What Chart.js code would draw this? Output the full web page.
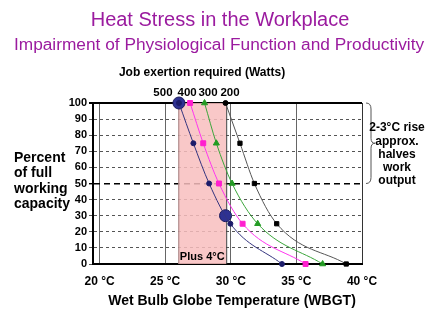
<!DOCTYPE html>
<html>
<head>
<meta charset="utf-8">
<script src="https://cdn.jsdelivr.net/npm/chart.js@4/dist/chart.umd.min.js"></script>
<style>
  html, body { margin: 0; padding: 0; background: #fff; }
  #box { width: 440px; height: 329px; position: relative; }
</style>
</head>
<body>
<div id="box"><canvas id="heatChart"></canvas></div>
<script>
"use strict";
// work capacity levels (%) and the WBGT at which each job load reaches them
var capacity = [100, 75, 50, 25, 0];
var watts = ['500', '400', '300', '200'];
var wbgt500 = [26.05, 27.15, 28.35, 29.97, 33.9];
var wbgt400 = [26.9, 27.9, 29.1, 30.9, 35.7];
var wbgt300 = [28.0, 28.9, 30.1, 32.05, 37.0];
var wbgt200 = [29.6, 30.7, 31.8, 33.5, 38.8];
// highlighted points on the 500 W curve
var keyWbgt = [26.05, 29.6];
var keyCapacity = [100, 30];
// shaded warming band
var bandFrom = 26.0;
var bandTo = 29.65;
var tempTicks = [20, 25, 30, 35, 40];

var FONT = "'Liberation Sans', Arial, sans-serif";

function pts(xs, ys) {
    var out = [];
    for (var i = 0; i < xs.length; i++) out.push({ x: xs[i], y: ys[i] });
    return out;
}

function serie(label, xs, line, mark, style, r) {
    return {
        label: label,
        data: pts(xs, capacity),
        borderColor: line,
        borderWidth: 1,
        backgroundColor: mark,
        pointBackgroundColor: mark,
        pointBorderColor: mark,
        pointStyle: style,
        pointRadius: r,
        cubicInterpolationMode: 'monotone',
        clip: false
    };
}

var decor = {
    id: 'decor',
    beforeDatasetsDraw: function (chart) {
        var c = chart.ctx, x = chart.scales.x, y = chart.scales.y;
        var l = x.getPixelForValue(bandFrom), r = x.getPixelForValue(bandTo);
        var t = y.getPixelForValue(100), b = y.getPixelForValue(0);
        c.save();
        c.fillStyle = 'rgba(248,190,190,0.85)';
        c.fillRect(l, t, r - l, b - t);
        c.strokeStyle = '#a08080';
        c.lineWidth = 1;
        c.beginPath();
        c.moveTo(l + 0.5, t); c.lineTo(l + 0.5, b);
        c.stroke();
        c.strokeStyle = '#404040';
        c.beginPath();
        c.moveTo(r + 0.5, t); c.lineTo(r + 0.5, b);
        c.stroke();
        c.fillStyle = '#000';
        c.font = 'bold 11px ' + FONT;
        c.textAlign = 'center';
        c.textBaseline = 'middle';
        c.fillText('Plus 4°C', (l + r) / 2, b - 7);
        c.restore();
    },
    afterDraw: function (chart) {
        var c = chart.ctx, x = chart.scales.x, y = chart.scales.y;
        c.save();
        c.textAlign = 'center';
        c.textBaseline = 'middle';
        c.fillStyle = '#9b1b9f';
        c.font = '20px ' + FONT;
        c.fillText('Heat Stress in the Workplace', 220, 20);
        c.font = '17.3px ' + FONT;
        c.fillText('Impairment of Physiological Function and Productivity', 219, 45);

        c.fillStyle = '#000';
        c.font = 'bold 12px ' + FONT;
        c.fillText('Job exertion required (Watts)', 202, 73);

        // watt labels above the top of each curve
        var tops = [wbgt500[0], wbgt400[0], wbgt300[0], wbgt200[0]];
        var shift = [-16, -3, 3.5, 4.5];
        c.font = 'bold 11.5px ' + FONT;
        for (var i = 0; i < watts.length; i++) {
            c.fillText(watts[i], x.getPixelForValue(tops[i]) + shift[i], 93);
        }

        // y axis title
        c.textAlign = 'left';
        c.font = 'bold 14px ' + FONT;
        ['Percent', 'of full', 'working', 'capacity'].forEach(function (s, k) {
            c.fillText(s, 14, 158 + k * 15.5);
        });

        // x axis title
        c.textAlign = 'center';
        c.font = 'bold 14px ' + FONT;
        c.fillText('Wet Bulb Globe Temperature (WBGT)', 232, 301);

        // brace between 100% and 50%
        var bx = x.right + 4, y1 = y.getPixelForValue(100), y2 = y.getPixelForValue(50);
        var ym = (y1 + y2) / 2;
        c.strokeStyle = '#555';
        c.lineWidth = 1;
        c.beginPath();
        c.moveTo(bx, y1);
        c.quadraticCurveTo(bx + 5, y1, bx + 5, y1 + 6);
        c.lineTo(bx + 5, ym - 5);
        c.quadraticCurveTo(bx + 5, ym, bx + 9, ym);
        c.quadraticCurveTo(bx + 5, ym, bx + 5, ym + 5);
        c.lineTo(bx + 5, y2 - 6);
        c.quadraticCurveTo(bx + 5, y2, bx, y2);
        c.stroke();

        c.font = 'bold 12px ' + FONT;
        ['2-3°C rise', 'approx.', 'halves', 'work', 'output'].forEach(function (s, k) {
            c.fillText(s, 397, 128 + k * 13.2);
        });
        c.restore();
    }
};

var data = {
    datasets: [
        {
            label: 'key',
            data: pts(keyWbgt, keyCapacity),
            showLine: false,
            pointRadius: 6,
            pointBackgroundColor: '#2e3192',
            pointBorderColor: '#1a1a5c',
            pointBorderWidth: 1,
            clip: false
        },
        serie('500', wbgt500, '#34347e', '#1c1c6a', 'circle', 2.5),
        serie('400', wbgt400, '#ff33ee', '#ff1fcf', 'rect', 3.5),
        serie('300', wbgt300, '#3aa53a', '#239b23', 'triangle', 3.5),
        serie('200', wbgt200, '#555555', '#000000', 'rect', 3)
    ]
};
// the 200 W curve starts at a round dot
data.datasets[4].pointStyle = ['circle', 'rect', 'rect', 'rect', 'rect'];
data.datasets[4].pointRadius = [2.5, 3, 3, 3, 3];
// key points drawn on top of the curves
data.datasets.push(data.datasets.shift());

var chart = new Chart(document.getElementById('heatChart'), {
    type: 'line',
    data: data,
    plugins: [decor],
    options: {
        responsive: true,
        maintainAspectRatio: false,
        animation: false,
        devicePixelRatio: 1,
        layout: { padding: { top: 103, right: 78, left: 0, bottom: 0 } },
        plugins: {
            legend: { display: false },
            tooltip: { enabled: false }
        },
        scales: {
            x: {
                type: 'linear',
                min: 19.5,
                max: 40,
                afterFit: function (s) { s.height = 65; },
                afterBuildTicks: function (s) {
                    s.ticks = tempTicks.map(function (v) { return { value: v }; });
                },
                grid: {
                    color: function (ctx) { return ctx.tick && ctx.tick.value === 40 ? '#333' : '#666'; },
                    lineWidth: 1,
                    tickLength: 0
                },
                border: { color: '#000', width: 2 },
                ticks: {
                    padding: 10,
                    color: '#000',
                    autoSkip: false,
                    maxRotation: 0,
                    font: { family: FONT, size: 12, weight: 'bold' },
                    callback: function (v) { return v + ' °C'; }
                }
            },
            y: {
                min: 0,
                max: 100,
                afterFit: function (s) { s.width = 93; },
                grid: {
                    color: function (ctx) {
                        var v = ctx.tick ? ctx.tick.value : 0;
                        return v === 100 || v === 50 ? '#000' : '#555';
                    },
                    lineWidth: function (ctx) {
                        var v = ctx.tick ? ctx.tick.value : 0;
                        return v === 100 ? 2 : (v === 50 ? 1.4 : 1);
                    },
                    tickLength: 4
                },
                border: {
                    color: '#000',
                    width: 2,
                    dash: function (ctx) {
                        var v = ctx.tick ? ctx.tick.value : 0;
                        if (v === 100) return [];
                        if (v === 50) return [6, 4];
                        return [3, 3];
                    }
                },
                ticks: {
                    stepSize: 10,
                    autoSkip: false,
                    padding: 2,
                    color: '#000',
                    font: { family: FONT, size: 11, weight: 'bold' }
                }
            }
        }
    }
});
</script>
</body>
</html>
